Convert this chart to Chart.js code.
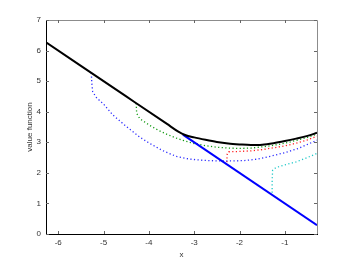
<!DOCTYPE html>
<html>
<head>
<meta charset="utf-8">
<script src="https://cdn.jsdelivr.net/npm/chart.js@4/dist/chart.umd.min.js"></script>
<style>
  html, body { margin: 0; padding: 0; background: #fff; overflow: hidden; }
</style>
</head>
<body>
<canvas id="chart" width="350" height="264"></canvas>
<script>
// value function (solid black)
var valueX = [-6.27, -5.5, -4.5, -3.6, -3.35, -3.2, -3.0, -2.75, -2.5, -2.25, -2.0, -1.75, -1.5, -1.25, -1.0, -0.75, -0.5, -0.29];
var valueY = [6.27, 5.5, 4.5, 3.6, 3.35, 3.24, 3.16, 3.08, 3.01, 2.96, 2.93, 2.91, 2.92, 2.97, 3.04, 3.12, 3.21, 3.31];
// straight blue line
var lineX = [-3.25, -0.29];
var lineY = [3.25, 0.29];
// dotted curves
var blueX = [-5.27, -5.26, -5.24, -5.15, -5.0, -4.8, -4.5, -4.2, -4.0, -3.7, -3.4, -3.1, -2.8, -2.5, -2.2, -1.9, -1.6, -1.3, -1.0, -0.7, -0.5, -0.29];
var blueY = [5.27, 4.95, 4.65, 4.45, 4.25, 3.9, 3.52, 3.17, 2.98, 2.73, 2.54, 2.45, 2.41, 2.39, 2.39, 2.40, 2.45, 2.55, 2.66, 2.8, 2.93, 3.07];
var greenX = [-4.28, -4.27, -4.2, -4.0, -3.8, -3.6, -3.4, -3.2, -3.0, -2.75, -2.5, -2.25, -2.0, -1.75, -1.5, -1.25, -1.0, -0.75, -0.5, -0.29];
var greenY = [4.28, 3.95, 3.77, 3.57, 3.4, 3.26, 3.14, 3.04, 2.96, 2.89, 2.84, 2.81, 2.80, 2.81, 2.85, 2.9, 2.97, 3.06, 3.16, 3.27];
var redX = [-2.28, -2.27, -2.24, -2.0, -1.75, -1.5, -1.25, -1.0, -0.75, -0.5, -0.29];
var redY = [2.35, 2.62, 2.69, 2.70, 2.72, 2.76, 2.82, 2.88, 2.97, 3.08, 3.2];
var cyanX = [-1.28, -1.28, -1.27, -1.2, -1.0, -0.75, -0.5, -0.29];
var cyanY = [1.35, 1.7, 2.08, 2.17, 2.26, 2.36, 2.5, 2.64];

var xTicks = [-6, -5, -4, -3, -2, -1];
var yTicks = [0, 1, 2, 3, 4, 5, 6, 7];

function pts(xs, ys) {
  return xs.map(function (v, i) { return { x: v, y: ys[i] }; });
}

function series(xs, ys, color, dotted, width) {
  return {
    data: pts(xs, ys),
    borderColor: color,
    borderWidth: width,
    borderDash: dotted ? [1.2, 2.4] : [],
    pointRadius: 0,
    showLine: true,
    fill: false,
    tension: 0
  };
}

// box on top/right and inward tick marks
var boxPlugin = {
  id: 'box',
  afterDraw: function (chart) {
    var ctx = chart.ctx, a = chart.chartArea;
    var xs = chart.scales.x, ys = chart.scales.y;
    ctx.save();
    ctx.lineWidth = 1;
    ctx.strokeStyle = '#8c8c8c';
    ctx.beginPath();
    ctx.moveTo(a.left, a.top + 0.5);
    ctx.lineTo(a.right + 0.5, a.top + 0.5);
    ctx.lineTo(a.right + 0.5, a.bottom);
    ctx.stroke();
    ctx.strokeStyle = '#666';
    ctx.beginPath();
    xTicks.forEach(function (t) {
      var px = Math.round(xs.getPixelForValue(t)) + 0.5;
      ctx.moveTo(px, a.bottom); ctx.lineTo(px, a.bottom - 3);
      ctx.moveTo(px, a.top); ctx.lineTo(px, a.top + 3);
    });
    yTicks.forEach(function (t) {
      var py = Math.round(ys.getPixelForValue(t)) + 0.5;
      ctx.moveTo(a.left, py); ctx.lineTo(a.left + 3, py);
      ctx.moveTo(a.right, py); ctx.lineTo(a.right - 3, py);
    });
    ctx.stroke();
    ctx.restore();
  }
};

var font = { family: 'Liberation Sans, Arial, sans-serif', size: 8 };

var valueSet = series(valueX, valueY, '#000000', false, 2);
valueSet.cubicInterpolationMode = 'monotone';

new Chart(document.getElementById('chart'), {
  type: 'scatter',
  data: {
    datasets: [
      valueSet,
      series(lineX, lineY, '#0000ff', false, 2),
      series(blueX, blueY, '#2a2aff', true, 1.3),
      series(greenX, greenY, '#129a12', true, 1.3),
      series(redX, redY, '#ff2020', true, 1.3),
      series(cyanX, cyanY, '#20c8c8', true, 1.3)
    ]
  },
  options: {
    responsive: false,
    animation: false,
    layout: { padding: { top: 20, right: 33, left: 0, bottom: 0 } },
    plugins: { legend: { display: false }, tooltip: { enabled: false } },
    scales: {
      x: {
        type: 'linear',
        min: -6.27,
        max: -0.29,
        afterBuildTicks: function (s) { s.ticks = xTicks.map(function (v) { return { value: v }; }); },
        afterFit: function (s) { s.height = 30; },
        grid: { display: false, drawTicks: false },
        border: { display: true, color: '#000', width: 1 },
        ticks: { font: font, color: '#333', padding: 4, maxRotation: 0 },
        title: { display: true, text: 'x', font: font, color: '#333', padding: { top: 0, bottom: 4 } }
      },
      y: {
        type: 'linear',
        min: 0,
        max: 7,
        afterBuildTicks: function (s) { s.ticks = yTicks.map(function (v) { return { value: v }; }); },
        afterFit: function (s) { s.width = 46; },
        grid: { display: false, drawTicks: false },
        border: { display: true, color: '#000', width: 1 },
        ticks: { font: font, color: '#333', padding: 5 },
        title: { display: true, text: 'value function', font: font, color: '#333', padding: { top: 25, bottom: 0 } }
      }
    }
  },
  plugins: [boxPlugin]
});
</script>
</body>
</html>
